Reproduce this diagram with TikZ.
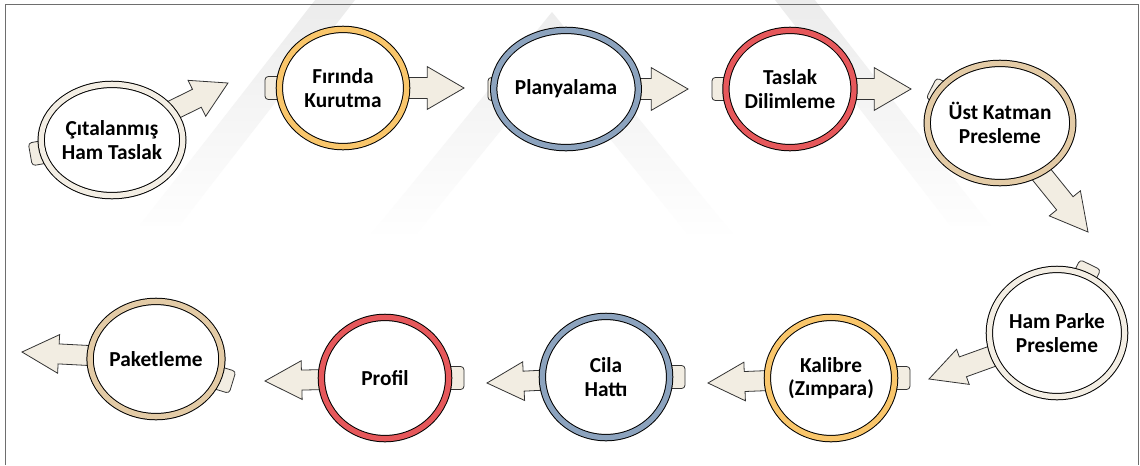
\documentclass[tikz,border=0pt]{standalone}
\usepackage{fontspec}
\setmainfont{Carlito}
\usetikzlibrary{shapes.geometric,calc,backgrounds}

\definecolor{ringcream}{HTML}{F3EEE4}
\definecolor{ringgold}{HTML}{F9C66B}
\definecolor{ringblue}{HTML}{8CA3BE}
\definecolor{ringred}{HTML}{E6585B}
\definecolor{ringtan}{HTML}{E3CBA6}
\definecolor{bodyfill}{HTML}{F2EDE2}
\definecolor{framegray}{HTML}{6E6E6E}
\definecolor{markgray}{HTML}{ECECEC}

\tikzset{
  stage/.style={ellipse, draw=black, line width=0.75pt, double=#1,
    double distance=4pt, fill=white, inner sep=0pt, align=center,
    font=\fontsize{16}{17.5}\selectfont\bfseries},
  dims/.style 2 args={minimum width={(2*#1-6.8)*0.75pt},
    minimum height={(2*#2-6.8)*0.75pt}},
  tabbody/.style={fill=bodyfill, draw=black!80, line width=0.6pt,
    rounded corners=2.5pt},
  arrowbody/.style={fill=bodyfill, draw=black!80, line width=0.6pt,
    line join=miter},
}

% tab sticking out of a stage: node, angle, edge distance, protrusion (px)
\newcommand\stagetab[4]{%
  \draw[tabbody, shift={(#1.center)}, rotate=#2]
    ({#3-22},-11.5) rectangle ({#3+#4},11.5);}

% block arrow leaving a stage: node, tip, shaft half width, head half width, head length
\newcommand\stagearrow[5]{%
  \draw[arrowbody] let \p1=(#1.center), \p2=(#2),
      \n1={atan2(\y2-\y1,\x2-\x1)},
      \n2={veclen(\x2-\x1,\y2-\y1)-#5} in
    ($(\p1)+(\n1+90:#3)$)
    -- ($(\p1)+(\n1:{\n2*1pt})+(\n1+90:#3)$)
    -- ($(\p1)+(\n1:{\n2*1pt})+(\n1+90:#4)$)
    -- (\p2)
    -- ($(\p1)+(\n1:{\n2*1pt})+(\n1-90:#4)$)
    -- ($(\p1)+(\n1:{\n2*1pt})+(\n1-90:#3)$)
    -- ($(\p1)+(\n1-90:#3)$) -- cycle;}

\begin{document}
\begin{tikzpicture}[x=0.75pt,y=-0.75pt]
\useasboundingbox (0,0) rectangle (1140,465);

% stages
\node[stage=ringcream, dims={62}{59}] (c1) at (112,140) {Çıtalanmış\\Ham Taslak};
\node[stage=ringgold,  dims={67}{62}] (c2) at (343,88)  {Fırında\\Kurutma};
\node[stage=ringblue,  dims={67}{62}] (c3) at (566,89)  {Planyalama};
\node[stage=ringred,   dims={67}{62}] (c4) at (790,89)  {Taslak\\Dilimleme};
\node[stage=ringtan,   dims={67}{63}] (c5) at (1000,123) {Üst Katman\\Presleme};
\node[stage=ringcream, dims={67}{67}] (c6) at (1057,333) {Ham Parke\\Presleme};
\node[stage=ringgold,  dims={67}{64}] (c7) at (831,378) {Kalibre\\(Zımpara)};
\node[stage=ringblue,  dims={67}{64}] (c8) at (606,377) {Cila\\Hattı};
\node[stage=ringred,   dims={67}{64}] (c9) at (385,378) {Profil};
\node[stage=ringtan,   dims={67}{61}] (c10) at (156,359) {Paketleme};

% arrow tips
\coordinate (t1) at (228,83);
\coordinate (t2) at (464,88);
\coordinate (t3) at (688,89);
\coordinate (t4) at (911,89);
\coordinate (t5) at (1088,232);
\coordinate (t6) at (929,379);
\coordinate (t7) at (708,383);
\coordinate (t8) at (487,383);
\coordinate (t9) at (265,381);
\coordinate (t10) at (22,352);

\begin{pgfonlayer}{background}
  \fill[white] (0,0) rectangle (1140,465);
  % faint chevron watermark, fading downwards
  \begin{scope}
    \clip (140,225) -- (565,-321) -- (990,225) -- (950,225)
          -- (565,-270) -- (180,225) -- cycle
          (350,260) -- (552,12) -- (754,260) -- (709,260)
          -- (552,68) -- (395,260) -- cycle;
    \shade[top color=markgray, bottom color=white] (0,0) rectangle (1140,240);
  \end{scope}

  \stagetab{c1}{190}{61}{22}
  \stagetab{c2}{180}{67}{11}
  \stagetab{c3}{180}{67}{11}
  \stagetab{c4}{180}{67}{11}
  \stagetab{c5}{153}{65}{12}
  \stagetab{c6}{64}{67}{9}
  \stagetab{c7}{0}{67}{12}
  \stagetab{c8}{0}{67}{12}
  \stagetab{c9}{0}{67}{12}
  \stagetab{c10}{-17}{66}{14}

  \stagearrow{c1}{t1}{7.5pt}{15pt}{26pt}
  \stagearrow{c2}{t2}{7.9pt}{16pt}{27.5pt}
  \stagearrow{c3}{t3}{7.9pt}{16pt}{27.5pt}
  \stagearrow{c4}{t4}{7.9pt}{16pt}{27.5pt}
  \stagearrow{c5}{t5}{7.9pt}{15pt}{27.5pt}
  \stagearrow{c6}{t6}{7.9pt}{14pt}{27pt}
  \stagearrow{c7}{t7}{7.5pt}{14.5pt}{27.5pt}
  \stagearrow{c8}{t8}{7.5pt}{14.5pt}{27.5pt}
  \stagearrow{c9}{t9}{7.5pt}{14.5pt}{27.5pt}
  \stagearrow{c10}{t10}{7.5pt}{14.5pt}{27.5pt}
\end{pgfonlayer}

% frame
\draw[framegray, line width=1.1pt] (5.5,465) -- (5.5,4.5) -- (1138.5,4.5) -- (1138.5,465);
\end{tikzpicture}
\end{document}
